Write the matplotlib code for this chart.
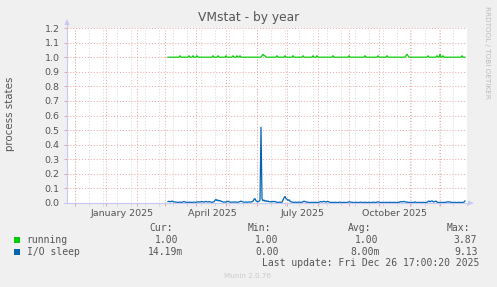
#!/usr/bin/env python

# Munin style "VMstat - by year" graph, redrawn with matplotlib

import datetime as dt
import numpy as np
import matplotlib

matplotlib.use("Agg")
import matplotlib.pyplot as plt
import matplotlib.dates as mdates
from matplotlib.lines import Line2D
from matplotlib.patches import Polygon, Rectangle

W, H = 497, 287

# Data - one value per day, starting 2025-03-04
start_day = dt.date(2025, 3, 4)

# running (hundredths of a process)
running_c = [
    100, 100, 100, 100, 100, 100, 100, 100, 100, 100, 100, 100, 101, 100, 100, 100, 100, 100, 100, 100,
    100, 101, 100, 100, 100, 101, 100, 100, 100, 101, 100, 100, 100, 100, 100, 100, 100, 100, 100, 100,
    100, 100, 100, 100, 100, 101, 100, 100, 100, 100, 101, 100, 100, 100, 100, 100, 100, 100, 101, 100,
    100, 100, 100, 100, 100, 101, 100, 100, 100, 101, 100, 100, 101, 100, 100, 100, 100, 100, 100, 100,
    100, 100, 100, 100, 100, 100, 100, 100, 100, 100, 100, 100, 100, 100, 101, 102, 101, 101, 100, 100,
    100, 100, 100, 100, 100, 100, 100, 100, 100, 101, 100, 100, 100, 100, 100, 100, 100, 101, 100, 100,
    100, 100, 100, 100, 100, 101, 100, 100, 100, 100, 100, 100, 100, 100, 100, 101, 100, 100, 100, 100,
    100, 100, 100, 100, 100, 101, 100, 100, 100, 101, 100, 100, 100, 100, 100, 100, 100, 100, 100, 100,
    100, 100, 100, 100, 100, 101, 100, 100, 100, 100, 100, 100, 100, 100, 100, 100, 100, 100, 100, 100,
    100, 101, 100, 100, 100, 100, 100, 100, 100, 100, 100, 100, 100, 100, 100, 100, 100, 101, 100, 100,
    100, 100, 100, 100, 100, 100, 100, 100, 100, 100, 101, 100, 100, 100, 100, 100, 100, 100, 100, 101,
    100, 100, 100, 100, 100, 100, 100, 100, 100, 100, 100, 100, 100, 100, 100, 100, 100, 100, 101, 102,
    101, 100, 100, 100, 100, 100, 100, 100, 100, 100, 100, 100, 100, 100, 100, 100, 100, 100, 100, 100,
    101, 100, 100, 100, 100, 100, 100, 100, 100, 101, 100, 100, 102, 100, 100, 101, 100, 100, 100, 100,
    100, 100, 100, 100, 100, 100, 100, 100, 100, 100, 100, 100, 100, 100, 101, 100, 100, 100,
]

# I/O sleep (milli processes)
io_sleep_m = [
    10, 12, 8, 10, 14, 9, 7, 8,
    5, 6, 4, 5, 6, 5, 4,
    8, 10, 7, 5,
    4, 5, 4, 6, 5, 4, 5, 6, 5, 4,
    7, 8, 6, 9, 7, 10, 8, 6, 9, 11, 8, 7, 10, 8,
    6, 5, 7, 8,
    18, 25, 16, 20, 14, 17, 12, 10,
    7, 6, 8, 5,
    10, 12, 9, 6,
    5, 6, 7, 5, 8, 6, 5, 6, 7,
    10, 13, 9, 7,
    6, 5, 7, 6, 5, 8, 7, 6, 9, 12,
    25, 30, 15, 10, 8, 12, 20,
    520, 30,
    15, 20, 12, 16, 10, 14, 9, 8,
    10, 7, 12, 9, 11, 6, 5,
    4, 5, 6, 4, 5,
    20, 35, 45, 30, 25, 18, 22, 12,
    8, 6, 5, 4, 6, 5, 4, 5, 6, 5, 4, 5,
    9, 12, 10, 7, 6,
    5, 4, 3, 4, 5, 4, 3, 5, 4, 3, 4, 5,
    8, 10, 7, 9, 12, 8, 6, 10, 11, 7, 5,
    4, 5, 3, 4, 5, 4, 3, 4, 5, 6, 4, 3, 4, 5, 4, 3, 4,
    6, 8, 7, 5, 6,
    4, 3, 4, 5, 4, 3, 4, 5, 6, 4, 3, 4, 5, 4, 3, 4, 5, 4, 3, 4, 5, 6, 4, 3,
    7, 8, 6, 4,
    4, 3, 5, 4, 3, 4, 5, 3, 4, 5, 4, 3, 4, 5, 4, 3, 4, 5, 4,
    8, 10, 7, 9, 11, 8, 6, 7,
    4, 5, 3, 4, 5, 4, 3, 8, 4, 3, 4, 5, 4, 3, 4, 5, 4, 3, 4, 5,
    10, 14, 8, 12, 15, 9, 7, 11, 13, 6,
    4, 3, 4, 5, 4, 3, 4, 5, 4,
    7, 9, 6, 8, 5, 4,
    3, 4, 5, 4, 3, 4, 5, 4, 3, 4, 5, 6, 14,
]

y_ticks = [0.0, 0.1, 0.2, 0.3, 0.4, 0.5, 0.6, 0.7, 0.8, 0.9, 1.0, 1.1, 1.2]
x_labels = ["January 2025", "April 2025", "July 2025", "October 2025"]
x_label_dates = [dt.date(2025, 1, 17), dt.date(2025, 4, 17), dt.date(2025, 7, 17), dt.date(2025, 10, 17)]

legend_names = ["running", "I/O sleep"]
legend_cols = ["Cur:", "Min:", "Avg:", "Max:"]
legend_vals = [
    ["1.00", "1.00", "1.00", "3.87"],
    ["14.19m", "0.00", "8.00m", "9.13"],
]
series_colours = ["#00CC00", "#0066B3"]

x_start = dt.date(2024, 11, 23)
x_end = dt.date(2025, 12, 28)

# Colours
bg = "#F0F0F0"
txt = "#555555"
mgrid = "#E9A3A3"
grid = "#D6D6D6"
axis_c = "#C8C8F5"


def fx(p):
    return p / W


def fy(p):
    return 1 - p / H


fig = plt.figure(figsize=(W / 100, H / 100), dpi=100, facecolor=bg)
ax = fig.add_axes([fx(67), fy(203), 400 / W, 175 / H])
ax.set_facecolor("white")
for s in ax.spines.values():
    s.set_visible(False)

dates = [start_day + dt.timedelta(days=i) for i in range(len(io_sleep_m))]
xd = mdates.date2num(dates)
running = np.array(running_c[: len(dates)]) / 100.0
io_sleep = np.array(io_sleep_m) / 1000.0

ax.set_xlim(mdates.date2num(x_start), mdates.date2num(x_end))
ax.set_ylim(0, 1.2)

# Minor grid - every two weeks on Sundays
minor = []
d = dt.date(2024, 12, 1)
while d <= x_end:
    minor.append(mdates.date2num(d))
    d += dt.timedelta(days=14)
for m in minor:
    ax.axvline(m, color=grid, lw=0.7, ls=(0, (1, 2)), zorder=1)

# Major grid - months
major = []
y, mo = 2024, 12
while dt.date(y, mo, 1) <= x_end:
    major.append(mdates.date2num(dt.date(y, mo, 1)))
    mo += 1
    if mo > 12:
        mo, y = 1, y + 1
for m in major:
    ax.axvline(m, color=mgrid, lw=0.7, ls=(0, (1, 2)), zorder=2)
for v in y_ticks[1:]:
    ax.axhline(v, color=mgrid, lw=0.7, ls=(0, (1, 2)), zorder=2)

ax.set_xticks(major)
ax.set_xticks(minor, minor=True)
ax.tick_params(axis="x", which="major", length=2.2, width=0.7, color=mgrid,
               direction="out", labelbottom=False)
ax.tick_params(axis="x", which="minor", length=2.2, width=0.7, color=grid,
               direction="out", labelbottom=False)
ax.set_yticks(y_ticks)
ax.set_yticklabels(["%.1f" % v for v in y_ticks])
ax.tick_params(axis="y", length=2.2, width=0.7, color=mgrid, labelcolor=txt,
               labelsize=6.8, pad=3.2)

for lab, ld in zip(x_labels, x_label_dates):
    ax.text(mdates.date2num(ld), fy(213), lab,
            transform=matplotlib.transforms.blended_transform_factory(ax.transData, fig.transFigure),
            ha="center", va="center", fontsize=6.8, color=txt)

# Series
ax.plot(xd, running, color=series_colours[0], lw=0.85, zorder=5, clip_on=False)
ax.plot(xd, io_sleep, color=series_colours[1], lw=0.9, zorder=6, clip_on=False)

# Axis lines with arrows
fig.add_artist(Line2D([fx(67), fx(67)], [fy(203), fy(24)], color=axis_c, lw=0.8, zorder=4))
fig.add_artist(Line2D([fx(64), fx(470)], [fy(203), fy(203)], color=axis_c, lw=0.8, zorder=4))
fig.add_artist(Polygon([[fx(64.5), fy(25)], [fx(69.5), fy(25)], [fx(67), fy(19)]],
                       closed=True, color=axis_c, lw=0))
fig.add_artist(Polygon([[fx(468), fy(200.5)], [fx(468), fy(205.5)], [fx(474), fy(203)]],
                       closed=True, color=axis_c, lw=0))

# Titles
fig.text(fx(249), fy(18), "VMstat - by year", ha="center", va="center", fontsize=8.8, color=txt)
fig.text(fx(10), fy(114), "process states", ha="center", va="center", rotation=90,
         fontsize=7.4, color=txt)
fig.text(fx(487), fy(52), "RRDTOOL / TOBI OETIKER", ha="center", va="center", rotation=270,
         fontsize=5.2, color="#BBBBBB")

# Legend
mono = "DejaVu Sans Mono"
col_x = [149.7, 247.5, 347.7, 446.7]
for c, cx in zip(legend_cols, col_x):
    fig.text(fx(cx), fy(228), c, ha="left", va="center", fontsize=7, family=mono, color=txt)
row_y = [240, 252]
val_x = [[155.3, 254.7, 354.7, 453.3], [148, 255.3, 350, 454]]
for i, name in enumerate(legend_names):
    fig.add_artist(Rectangle((fx(14), fy(row_y[i] + 3)), 6 / W, 6 / H,
                             color=series_colours[i], lw=0))
    fig.text(fx(26.7), fy(row_y[i]), name, ha="left", va="center", fontsize=7,
             family=mono, color=txt)
    for v, vx in zip(legend_vals[i], val_x[i]):
        fig.text(fx(vx), fy(row_y[i]), v, ha="left", va="center", fontsize=7,
                 family=mono, color=txt)

fig.text(fx(261.7), fy(263.5), "Last update: Fri Dec 26 17:00:20 2025", ha="left", va="center",
         fontsize=7, family=mono, color=txt)
fig.text(fx(248), fy(276.5), "Munin 2.0.76", ha="center", va="center", fontsize=5.2,
         color="#CCCCCC")

fig.savefig("out.png", dpi=100, facecolor=bg)
